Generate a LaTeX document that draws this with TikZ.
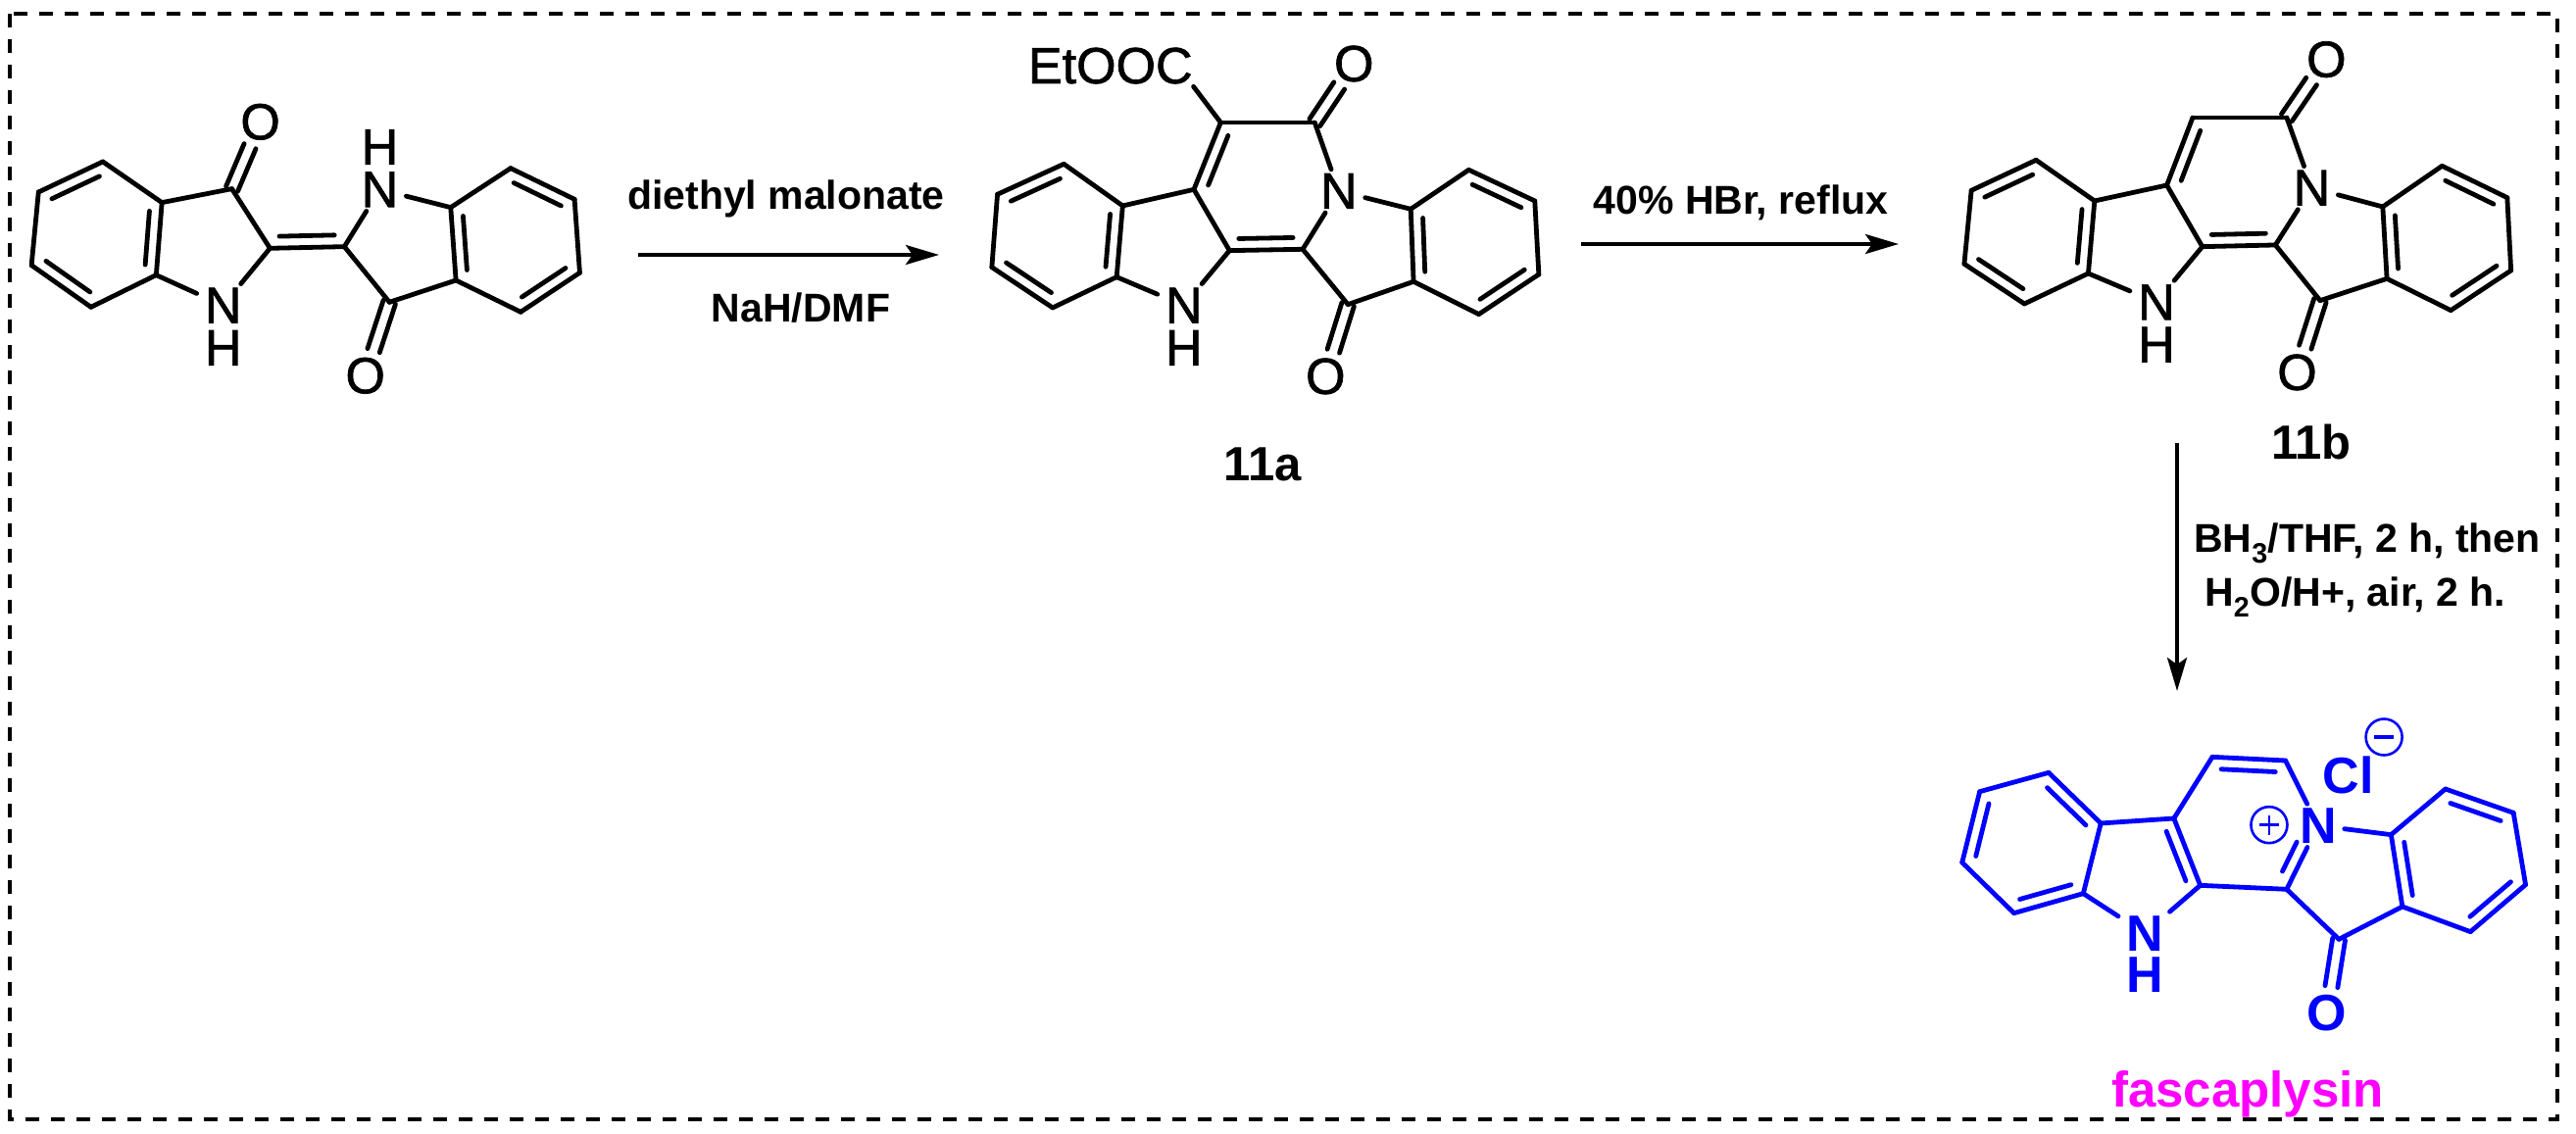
\documentclass[tikz,border=0pt]{standalone}
\usepackage{fontspec}
\setmainfont{Liberation Sans}
\newfontfamily\atomfont[FakeBold=1.3]{Liberation Sans}
\usetikzlibrary{calc,arrows.meta}
\definecolor{mblue}{RGB}{0,0,255}
\definecolor{mmag}{RGB}{255,0,255}
\tikzset{
  bond/.style={line width=4.8bp,line cap=round,line join=round},
  atom/.style={font=\fontsize{52bp}{60bp}\atomfont\selectfont,inner xsep=8bp,inner ysep=4bp},
  batom/.style={font=\fontsize{52bp}{60bp}\selectfont\bfseries,inner xsep=8bp,inner ysep=4bp},
  reag/.style={font=\fontsize{41bp}{48bp}\selectfont\bfseries,inner sep=0pt,anchor=base},
  cpd/.style={font=\fontsize{49bp}{56bp}\selectfont\bfseries,inner sep=0pt,anchor=base},
  rxn/.style={line width=4bp,-{Stealth[length=34bp,width=20bp,inset=7bp]}},
  frame/.style={line width=4bp,dash pattern=on 14bp off 12bp},
  chg/.style={circle,draw,line width=2.6bp,minimum size=37bp,inner sep=0pt},
}
\newcommand{\bd}[2]{\draw[bond] (#1)--(#2);}
\newcommand{\dbl}[2]{\draw[bond] (#1)--(#2);
  \draw[bond] ($(#1)!.13!(#2)!12bp!90:(#2)$)--($(#2)!.13!(#1)!12bp!-90:(#1)$);}
\newcommand{\cdo}[2]{%
  \draw[bond,shorten >=27bp] ($(#1)!6.5bp!90:(#2)$)--($(#2)!6.5bp!-90:(#1)$);
  \draw[bond,shorten >=27bp] ($(#1)!6.5bp!-90:(#2)$)--($(#2)!6.5bp!90:(#1)$);}
\newcommand{\at}[3]{\coordinate (#1) at (#2,#3);}
\begin{document}
\begin{tikzpicture}
\useasboundingbox (0,0) rectangle (2628bp,-1157bp);
\fill[white] (0,0) rectangle (2628bp,-1157bp);
\draw[frame] (10bp,-14bp) rectangle (2609bp,-1142bp);

% starting material
\begin{scope}[shift={(0bp,-60bp)},x=0.4464bp,y=-0.3333bp]
\at{a1}{235}{315}\at{a2}{88}{408}\at{a3}{72}{632}\at{a4}{208}{760}\at{a5}{357}{662}\at{a6}{370}{440}
\at{c3}{530}{398}\at{c2}{617}{580}\at{d2}{787}{575}\at{d3}{890}{745}
\at{r1}{1030}{455}\at{r2}{1167}{335}\at{r3}{1313}{430}\at{r4}{1325}{655}\at{r5}{1190}{775}\at{r6}{1042}{678}
\node[atom] (o1) at (595,193) {O};
\node[atom] (o2) at (835,970) {O};
\node[atom] (n1) at (510,755) {N};
\node[atom] (h1) at (510,885) {H};
\node[atom] (n2) at (868,400) {N};
\node[atom] (h2) at (868,270) {H};
\dbl{a1}{a2}\bd{a2}{a3}\dbl{a3}{a4}\bd{a4}{a5}\dbl{a5}{a6}\bd{a6}{a1}
\bd{a6}{c3}\bd{c3}{c2}\bd{a5}{n1}\bd{c2}{n1}
\dbl{c2}{d2}\bd{d2}{n2}\bd{n2}{r1}\bd{d2}{d3}\bd{d3}{r6}
\bd{r2}{r1}\dbl{r1}{r6}\bd{r6}{r5}\dbl{r5}{r4}\bd{r4}{r3}\dbl{r3}{r2}
\cdo{c3}{o1}\cdo{d3}{o2}
\end{scope}

% 11a
\begin{scope}[shift={(980bp,-20bp)},x=0.4082bp,y=-0.3333bp]
\at{a1}{258}{442}\at{a2}{92}{535}\at{a3}{78}{758}\at{a4}{230}{882}\at{a5}{390}{788}\at{a6}{405}{570}
\at{j}{583}{520}\at{e}{650}{315}\at{k}{885}{315}\at{c2}{672}{707}\at{d2}{855}{703}\at{d3}{968}{872}
\at{r1}{1125}{580}\at{r2}{1270}{460}\at{r3}{1435}{555}\at{r4}{1445}{780}\at{r5}{1295}{902}\at{r6}{1132}{802}
\at{est}{582}{205}
\node[atom,anchor=base east,inner sep=0pt] (et) at (580,195) {EtOOC};
\node[atom] (o1) at (983,135) {O};
\node[atom] (o2) at (912,1092) {O};
\node[atom] (n1) at (558,875) {N};
\node[atom] (h1) at (558,1005) {H};
\node[atom] (n2) at (945,525) {N};
\dbl{a1}{a2}\bd{a2}{a3}\dbl{a3}{a4}\bd{a4}{a5}\dbl{a5}{a6}\bd{a6}{a1}
\bd{a6}{j}\dbl{e}{j}\bd{e}{k}\bd{j}{c2}\bd{a5}{n1}\bd{c2}{n1}
\dbl{c2}{d2}\bd{k}{n2}\bd{d2}{n2}\bd{n2}{r1}\bd{d2}{d3}\bd{d3}{r6}
\bd{r2}{r1}\dbl{r1}{r6}\bd{r6}{r5}\dbl{r5}{r4}\bd{r4}{r3}\dbl{r3}{r2}
\bd{e}{est}
\cdo{k}{o1}\cdo{d3}{o2}
\end{scope}

% 11b
\begin{scope}[shift={(1960bp,-40bp)},x=0.4261bp,y=-0.3333bp]
\at{a1}{275}{370}\at{a2}{120}{463}\at{a3}{103}{688}\at{a4}{247}{810}\at{a5}{400}{717}\at{a6}{415}{495}
\at{j}{588}{447}\at{e}{650}{240}\at{k}{875}{240}\at{c2}{673}{635}\at{d2}{848}{630}\at{d3}{955}{800}
\at{r1}{1105}{513}\at{r2}{1247}{388}\at{r3}{1403}{485}\at{r4}{1412}{708}\at{r5}{1268}{830}\at{r6}{1115}{733}
\node[atom] (o1) at (970,62) {O};
\node[atom] (o2) at (900,1020) {O};
\node[atom] (n1) at (563,805) {N};
\node[atom] (h1) at (563,935) {H};
\node[atom] (n2) at (935,455) {N};
\dbl{a1}{a2}\bd{a2}{a3}\dbl{a3}{a4}\bd{a4}{a5}\dbl{a5}{a6}\bd{a6}{a1}
\bd{a6}{j}\dbl{e}{j}\bd{e}{k}\bd{j}{c2}\bd{a5}{n1}\bd{c2}{n1}
\dbl{c2}{d2}\bd{k}{n2}\bd{d2}{n2}\bd{n2}{r1}\bd{d2}{d3}\bd{d3}{r6}
\bd{r2}{r1}\dbl{r1}{r6}\bd{r6}{r5}\dbl{r5}{r4}\bd{r4}{r3}\dbl{r3}{r2}
\cdo{k}{o1}\cdo{d3}{o2}
\end{scope}

% fascaplysin
\begin{scope}[shift={(1960bp,-700bp)},x=0.4261bp,y=-0.3333bp,color=mblue]
\at{a1}{305}{265}\at{a2}{140}{323}\at{a3}{98}{540}\at{a4}{222}{695}\at{a5}{388}{635}\at{a6}{430}{420}
\at{j}{605}{405}\at{e}{697}{217}\at{k}{872}{228}\at{c2}{668}{610}\at{d2}{875}{622}\at{d3}{1000}{775}
\at{r1}{1125}{455}\at{r2}{1255}{315}\at{r3}{1418}{388}\at{r4}{1447}{608}\at{r5}{1315}{752}\at{r6}{1152}{675}
\node[batom] (o2) at (972,1000) {O};
\node[batom] (n1) at (535,757) {N};
\node[batom] (h1) at (535,885) {H};
\node[batom] (n2) at (950,427) {N};
\node[batom] (cl) at (1022,272) {Cl};
\node[chg] (mi) at (1108,156) {};
\node[chg] (pl) at (833,425) {};
\draw[line width=3.4bp] ($(mi)+(-10bp,0)$)--($(mi)+(10bp,0)$);
\draw[line width=2.6bp] ($(pl)+(-10bp,0)$)--($(pl)+(10bp,0)$) ($(pl)+(0,-10bp)$)--($(pl)+(0,10bp)$);
\bd{a1}{a2}\dbl{a2}{a3}\bd{a3}{a4}\dbl{a4}{a5}\bd{a5}{a6}\dbl{a6}{a1}
\bd{a6}{j}\bd{j}{e}\dbl{k}{e}\dbl{c2}{j}\bd{a5}{n1}\bd{c2}{n1}
\bd{c2}{d2}\bd{k}{n2}\bd{d2}{n2}\bd{n2}{r1}\bd{d2}{d3}\bd{d3}{r6}
\draw[bond] ($(d2)!.2!(n2)!12bp!90:(n2)$)--($(d2)!.66!(n2)!12bp!90:(n2)$);
\bd{r2}{r1}\dbl{r1}{r6}\bd{r6}{r5}\dbl{r5}{r4}\bd{r4}{r3}\dbl{r3}{r2}
\cdo{d3}{o2}
\end{scope}

% compound labels
\node[cpd] (l11a) at (1288bp,-490bp) {11a};
\node[cpd] (l11b) at (2358bp,-468bp) {11b};
\node[font=\fontsize{51bp}{58bp}\selectfont\bfseries,inner sep=0pt,anchor=base,text=mmag] (lf) at (2293bp,-1129bp) {fascaplysin};

% reactions
\coordinate (ar1s) at (651bp,-260bp); \coordinate (ar1e) at (958bp,-260bp);
\coordinate (ar2s) at (1613bp,-249bp); \coordinate (ar2e) at (1937bp,-249bp);
\coordinate (ar3s) at (2221bp,-452bp); \coordinate (ar3e) at (2221bp,-705bp);
\draw[rxn] (ar1s)--(ar1e);
\draw[rxn] (ar2s)--(ar2e);
\draw[rxn] (ar3s)--(ar3e);
\node[reag] (t1) at (802bp,-213bp) {diethyl malonate};
\node[reag] (t2) at (817bp,-328bp) {NaH/DMF};
\node[reag] (t3) at (1776bp,-218bp) {40\% HBr, reflux};
\node[reag,anchor=base west] (t4) at (2238bp,-563bp) {BH\textsubscript{3}/THF, 2 h, then};
\node[reag,anchor=base west] (t5) at (2249bp,-618bp) {H\textsubscript{2}O/H+, air, 2 h.};
\end{tikzpicture}
\end{document}
